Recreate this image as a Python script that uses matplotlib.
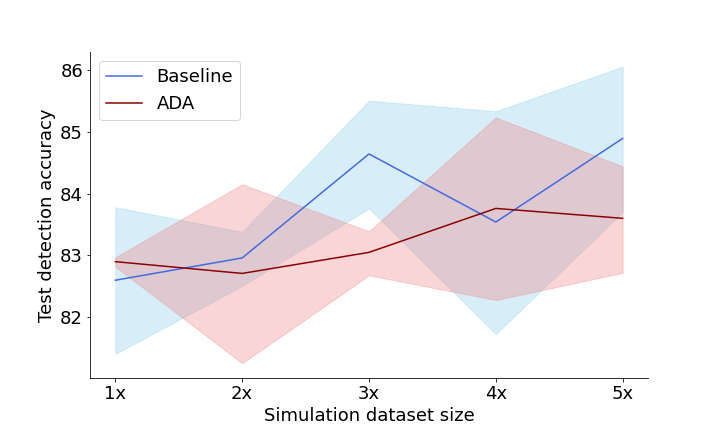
import matplotlib.pyplot as plt

sizes = ['1x', '2x', '3x', '4x', '5x']

baseline_mean = [82.60, 82.96, 84.64, 83.54, 84.89]
baseline_low = [81.41, 82.51, 83.76, 81.73, 83.70]
baseline_high = [83.78, 83.38, 85.50, 85.33, 86.05]

ada_mean = [82.90, 82.71, 83.05, 83.76, 83.60]
ada_low = [82.82, 81.26, 82.68, 82.28, 82.72]
ada_high = [82.97, 84.15, 83.39, 85.23, 84.44]

fig, ax = plt.subplots(figsize=(10, 6), dpi=72)
fig.subplots_adjust(left=0.125, right=0.9, bottom=0.125, top=0.88)
x = range(len(sizes))

ax.plot(x, baseline_mean, color='royalblue', label='Baseline')
ax.fill_between(x, baseline_low, baseline_high, color='skyblue', alpha=0.33)
ax.plot(x, ada_mean, color='darkred', label='ADA')
ax.fill_between(x, ada_low, ada_high, color='lightcoral', alpha=0.33)

ax.set_xticks(list(x))
ax.set_xticklabels(sizes)
ax.tick_params(labelsize=18)
ax.set_xlabel('Simulation dataset size', fontsize=18)
ax.set_ylabel('Test detection accuracy', fontsize=18)
ax.spines['top'].set_visible(False)
ax.spines['right'].set_visible(False)
ax.legend(fontsize=18, loc='upper left')

plt.savefig('out.png')
